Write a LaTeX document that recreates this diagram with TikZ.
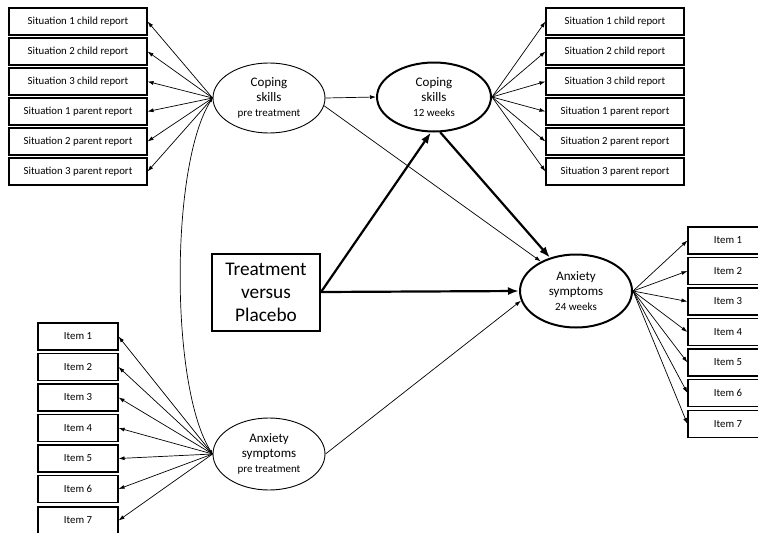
\documentclass[tikz,border=0pt]{standalone}
\usepackage{fontspec}
\setmainfont{Carlito}
\usetikzlibrary{shapes.geometric, arrows.meta}

\begin{document}
\begin{tikzpicture}[x=1pt, y=-1pt, >={Latex[length=6pt,width=4pt]},
    indic/.style={draw, line width=1.1pt, minimum width=138, minimum height=27, inner sep=0pt, font=\fontsize{10.8}{12}\selectfont},
    item/.style={indic, minimum width=80},
    latent/.style={draw, ellipse, line width=0.9pt, inner sep=0pt, align=center, font=\fontsize{13}{15}\selectfont},
    bold latent/.style={latent, line width=2pt},
    load/.style={->, line width=0.7pt},
    effect/.style={-{Latex[length=11pt,width=8pt]}, line width=2.2pt}]
                \clip (0,0) rectangle (758,533);
                \node[indic] (c1) at (78,21.5) {Situation 1 child report};
                \node[indic] (c2) at (78,51.5) {Situation 2 child report};
                \node[indic] (c3) at (78,81.5) {Situation 3 child report};
                \node[indic] (c4) at (78,111.5) {Situation 1 parent report};
                \node[indic] (c5) at (78,141.5) {Situation 2 parent report};
                \node[indic] (c6) at (78,171.5) {Situation 3 parent report};

                \node[indic] (d1) at (615,21.5) {Situation 1 child report};
                \node[indic] (d2) at (615,51.5) {Situation 2 child report};
                \node[indic] (d3) at (615,81.5) {Situation 3 child report};
                \node[indic] (d4) at (615,111.5) {Situation 1 parent report};
                \node[indic] (d5) at (615,141.5) {Situation 2 parent report};
                \node[indic] (d6) at (615,171.5) {Situation 3 parent report};

                \node[item] (a1) at (78,336.5) {Item 1};
                \node[item] (a2) at (78,367) {Item 2};
                \node[item] (a3) at (78,397.5) {Item 3};
                \node[item] (a4) at (78,428) {Item 4};
                \node[item] (a5) at (78,458.5) {Item 5};
                \node[item] (a6) at (78,489) {Item 6};
                \node[item] (a7) at (78,520.5) {Item 7};

                \node[item] (b1) at (728,240.5) {Item 1};
                \node[item] (b2) at (728,271) {Item 2};
                \node[item] (b3) at (728,301.5) {Item 3};
                \node[item] (b4) at (728,332) {Item 4};
                \node[item] (b5) at (728,362.5) {Item 5};
                \node[item] (b6) at (728,393) {Item 6};
                \node[item] (b7) at (728,424) {Item 7};

                \node[latent, minimum width=112, minimum height=70] (cp0) at (269,98)
                    {Coping\\skills\\{\fontsize{11}{12}\selectfont pre treatment}};
                \node[bold latent, minimum width=114, minimum height=69] (cp12) at (434,97)
                    {Coping\\skills\\{\fontsize{11}{12}\selectfont 12 weeks}};
                \node[latent, minimum width=112, minimum height=72] (ax0) at (269,454)
                    {Anxiety\\symptoms\\{\fontsize{11}{12}\selectfont pre treatment}};
                \node[bold latent, minimum width=112, minimum height=73] (ax24) at (576,291)
                    {Anxiety\\symptoms\\{\fontsize{11}{12}\selectfont 24 weeks}};
                \node[draw, line width=2pt, minimum width=108, minimum height=77, inner sep=0pt,
                    align=center, font=\fontsize{19.3}{23}\selectfont] (tx) at (266,292)
                    {Treatment\\versus\\Placebo};

                \path[load]
                    (cp0.west) edge (c1.east) edge (c2.east) edge (c3.east)
                        edge (c4.east) edge (c5.east) edge (c6.east)
                    (cp12.east) edge (d1.west) edge (d2.west) edge (d3.west)
                        edge (d4.west) edge (d5.west) edge (d6.west)
                    (ax0.west) edge (a1.east) edge (a2.east) edge (a3.east) edge (a4.east)
                        edge (a5.east) edge (a6.east) edge (a7.east)
                    (ax24.east) edge (b1.west) edge (b2.west) edge (b3.west) edge (b4.west)
                        edge (b5.west) edge (b6.west) edge (b7.west)

                    (cp0.east) edge (cp12.west)
                    (cp0.-8) edge (ax24.140)
                    (ax0.east) edge (ax24.190)
                    ;
                \draw[<->, line width=0.7pt, >={Latex[length=4pt,width=3pt]}]
                    (cp0.west) .. controls (170,165) and (170,387) .. (ax0.west);
                \path[effect]
                    (tx.east) edge (cp12.-95)
                    (tx.east) edge (ax24.west)
                    (cp12.-80) edge (ax24.128)
                    ;
            \end{tikzpicture}
\end{document}
